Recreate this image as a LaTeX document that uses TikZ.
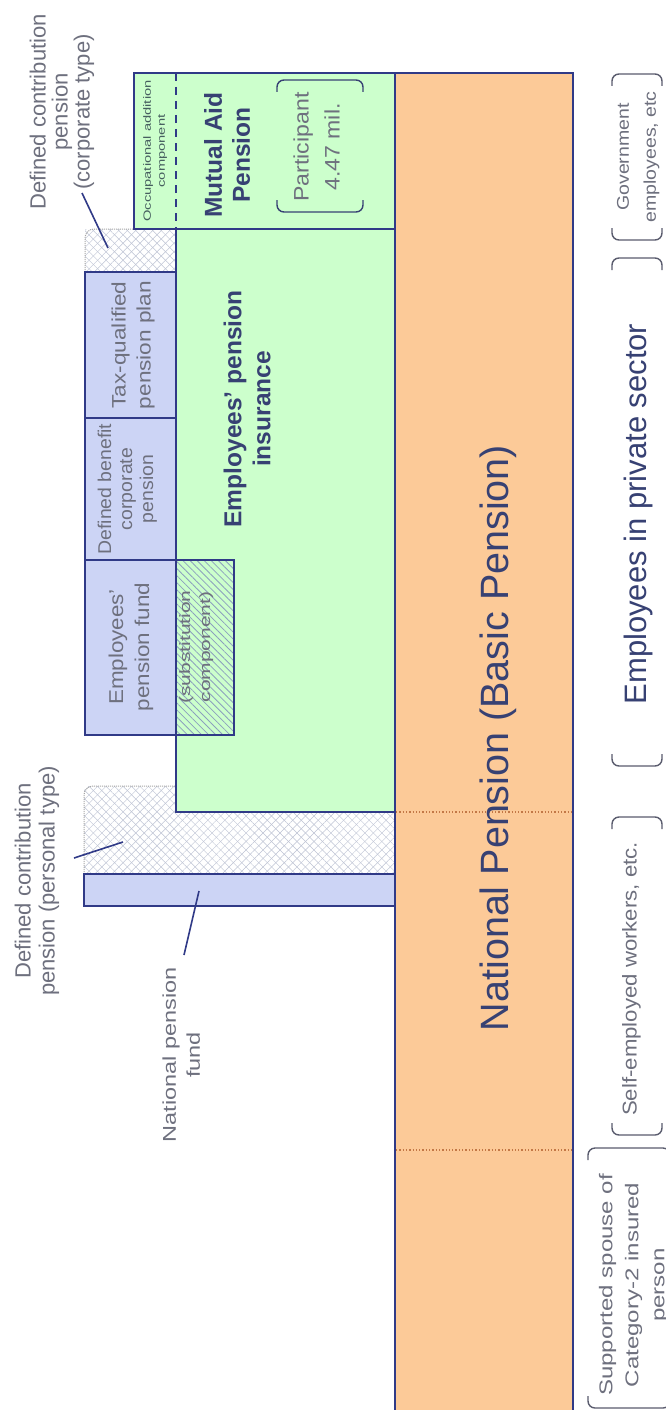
\documentclass[tikz,border=0pt]{standalone}
\usepackage{fontspec}
\setmainfont{Liberation Sans}
\usetikzlibrary{patterns,patterns.meta}

\definecolor{peach}{RGB}{252,202,152}
\definecolor{mint}{RGB}{204,255,204}
\definecolor{lav}{RGB}{204,212,245}
\definecolor{navy}{RGB}{48,58,135}
\definecolor{hatchc}{RGB}{190,195,212}
\definecolor{stripe}{RGB}{140,160,190}
\definecolor{ink}{RGB}{55,65,115}
\definecolor{soft}{RGB}{110,112,126}
\definecolor{olive}{RGB}{70,95,95}
\definecolor{brgray}{RGB}{90,92,110}
\definecolor{rust}{RGB}{195,120,70}

% font size helper and stretched multi-line block
\newcommand\fsz[2]{\fontsize{#1}{#2}\selectfont}
\newcommand\stk[2]{\scalebox{#1}[1]{\begin{tabular}{@{}c@{}}#2\end{tabular}}}

\begin{document}
\begin{tikzpicture}[x=1pt,y=-1pt,
  frame/.style={draw=navy, line width=1.6pt},
  lbl/.style={rotate=90, inner sep=0pt, align=center},
  brk/.style={draw=brgray, line width=1.4pt, rounded corners=7pt},
  leader/.style={draw=navy, line width=1.6pt},
  dotedge/.style={draw=gray!70, densely dotted, line width=1pt, rounded corners=9pt},
  diag/.style={pattern={Lines[angle=45,distance=6pt,line width=0.45pt]}, pattern color=hatchc},
  antidiag/.style={pattern={Lines[angle=-45,distance=6pt,line width=0.45pt]}, pattern color=hatchc},
]
\useasboundingbox (0,0) rectangle (666,1410);
\clip (0,0) rectangle (666,1410);
\fill[white] (0,0) rectangle (666,1410);

% defined contribution areas (cross-hatched)
\fill[diag] (85,229) rectangle (176,272);
\fill[antidiag] (85,229) rectangle (176,272);
\draw[dotedge] (85,272) -- (85,229) -- (134,229);
\fill[diag] (84,786) rectangle (395,874);
\fill[antidiag] (84,786) rectangle (395,874);
\draw[dotedge] (84,874) -- (84,786) -- (176,786);

% national pension band
\filldraw[fill=peach, frame] (395,1420) -- (395,73) -- (573,73) -- (573,1420);
\draw[rust, dotted, line width=1.3pt] (396,812) -- (572,812);
\draw[rust, dotted, line width=1.3pt] (396,1150) -- (572,1150);

% mutual aid pension
\filldraw[fill=mint, frame] (134,73) rectangle (395,229);
\draw[navy, line width=1.6pt, dash pattern=on 8pt off 6pt] (176,73) -- (176,229);

% employees' pension insurance
\filldraw[fill=mint, frame] (176,229) rectangle (395,812);

% corporate plans
\filldraw[fill=lav, frame] (85,272) rectangle (176,418);
\filldraw[fill=lav, frame] (85,418) rectangle (176,560);
\filldraw[fill=lav, frame] (85,560) rectangle (176,735);
\fill[mint] (176,560) rectangle (234,735);
\fill[pattern={Lines[angle=-45,distance=5pt,line width=0.8pt]}, pattern color=stripe] (176,560) rectangle (234,735);
\draw[frame] (176,560) rectangle (234,735);

% national pension fund
\filldraw[fill=lav, frame] (84,874) rectangle (395,906);

% texts inside boxes
\node[lbl, text=ink, font=\fsz{39.5}{45}, anchor=base] (np) at (508,738) {National Pension (Basic Pension)};
\node[lbl, text=ink, font=\bfseries\fsz{24.5}{28}] (mut) at (227,155) {Mutual Aid\\Pension};
\node[lbl, text=ink, font=\bfseries\fsz{24.5}{29}] (epi) at (247,409) {Employees' pension\\insurance};
\node[lbl, text=olive, font=\fsz{10.5}{14}] (occ) at (155,151) {\stk{1.4}{Occupational addition\\component}};
\node[lbl, text=soft, font=\fsz{21}{31}] (part) at (318,147) {\stk{1.1}{Participant\\4.47 mil.}};
\draw[brk, draw=ink] (277,92) -- (277,80) -- (363,80) -- (363,92);
\draw[brk, draw=ink] (277,200) -- (277,212) -- (363,212) -- (363,200);
\node[lbl, text=soft, font=\fsz{19.5}{25}] (tax) at (133,345) {\stk{1.16}{Tax-qualified\\pension plan}};
\node[lbl, text=soft, font=\fsz{18.5}{21}] (db) at (128,489) {\stk{1.05}{Defined benefit\\corporate\\pension}};
\node[lbl, text=soft, font=\fsz{20}{26}] (epf) at (131,647) {\stk{1.12}{Employees'\\pension fund}};
\node[lbl, text=soft, font=\fsz{15}{20}] (sub) at (196,647) {\stk{1.4}{(substitution\\component)}};

% outside labels and leaders
\node[lbl, text=soft, font=\fsz{22}{22}] (dcc) at (62,112) {Defined contribution\\pension\\(corporate type)};
\node[lbl, text=soft, font=\fsz{22}{24}] (dcp) at (37,881) {Defined contribution\\pension (personal type)};
\node[lbl, text=soft, font=\fsz{18.5}{24}] (npf) at (183,1055) {\stk{1.27}{National pension\\fund}};
\coordinate (dccA) at (82,193);  \coordinate (dccB) at (108,248);
\coordinate (dcpA) at (74,858);  \coordinate (dcpB) at (123,842);
\coordinate (npfA) at (184,955); \coordinate (npfB) at (199,891);
\draw[leader] (dccA) -- (dccB);
\draw[leader] (dcpA) -- (dcpB);
\draw[leader] (npfA) -- (npfB);

% categories of insured persons
\node[lbl, text=soft, font=\fsz{17}{27}] (gov) at (637,157) {\stk{1.15}{Government\\employees, etc}};
\draw[brk] (612,86) -- (612,74) -- (662,74) -- (662,86);
\draw[brk] (612,228) -- (612,240) -- (662,240) -- (662,228);
\node[lbl, text=ink, font=\fsz{31}{35}, anchor=base] (priv) at (646,514) {Employees in private sector};
\draw[brk] (612,270) -- (612,258) -- (662,258) -- (662,270);
\draw[brk] (612,754) -- (612,766) -- (662,766) -- (662,754);
\node[lbl, text=soft, font=\fsz{20}{24}, anchor=base] (self) at (637,979) {\stk{1.11}{Self-employed workers, etc.}};
\draw[brk] (612,829) -- (612,817) -- (662,817) -- (662,829);
\draw[brk] (612,1123) -- (612,1135) -- (662,1135) -- (662,1123);
\node[lbl, text=soft, font=\fsz{18.5}{26}, anchor=north] (spouse) at (594,1285) {\stk{1.3}{Supported spouse of\\Category-2 insured\\person}};
\draw[brk] (588,1160) -- (588,1148) -- (670,1148) -- (670,1160);
\draw[brk] (588,1396) -- (588,1408) -- (670,1408) -- (670,1396);
\end{tikzpicture}
\end{document}
